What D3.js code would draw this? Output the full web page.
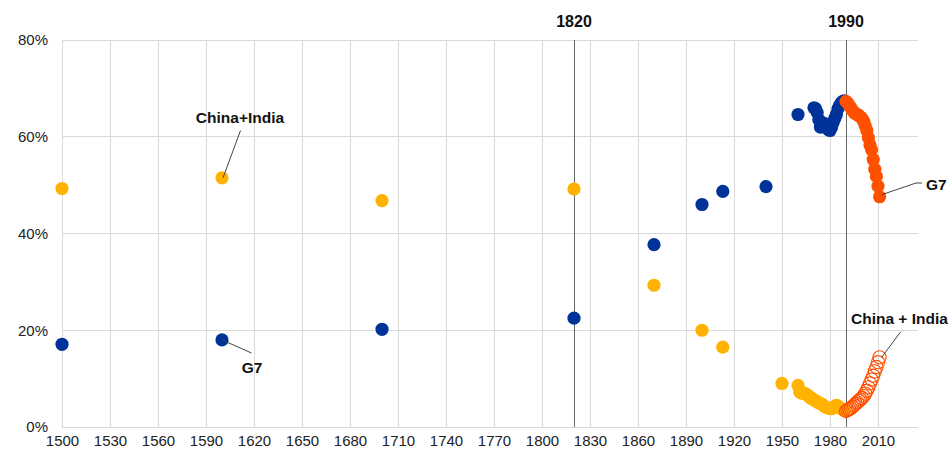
<!DOCTYPE html>
<html><head><meta charset="utf-8">
<script src="https://cdn.jsdelivr.net/npm/d3@7"></script>
<style>body{margin:0;background:#fff}svg{display:block}text{font-family:"Liberation Sans",Arial,sans-serif}</style>
</head><body><svg id="c" width="949" height="450"></svg>
<script>
// G7 share, historical (blue)
const g7Years = [1500,1600,1700,1820,1870,1900,1913,1940,1960,1970,1971,1972,1973,1974,1975,1976,1977,1978,1979,1980,1981,1982,1983,1984,1985,1986,1987,1988,1989];
const g7Vals  = [17.1,18.0,20.2,22.5,37.7,46.0,48.7,49.7,64.6,66.0,65.8,65.0,63.5,62.0,62.2,62.8,62.3,61.8,61.5,61.3,62.0,63.0,63.8,64.6,65.8,66.5,67.0,67.3,67.4];
// China+India share, historical (amber)
const ciYears = [1500,1600,1700,1820,1870,1900,1913,1950,1960,1961,1962,1963,1964,1965,1966,1967,1968,1969,1970,1971,1972,1973,1974,1975,1976,1977,1978,1979,1980,1981,1982,1983,1984,1985,1986,1987,1988,1989];
const ciVals  = [49.3,51.5,46.8,49.2,29.3,20.0,16.5,9.0,8.6,7.3,7.0,7.1,6.9,6.8,6.6,6.3,6.0,5.8,5.6,5.4,5.2,5.0,4.9,4.7,4.4,4.2,4.0,3.9,3.8,3.8,3.9,4.2,4.5,4.3,4.0,3.8,3.6,3.4];
// Since 1990 (orange)
const recentYears = [1990,1991,1992,1993,1994,1995,1996,1997,1998,1999,2000,2001,2002,2003,2004,2005,2006,2007,2008,2009,2010,2011];
const g7Recent    = [67.3,67.0,66.5,66.0,65.5,65.0,64.8,64.6,64.4,64.1,63.8,63.2,62.3,61.3,59.8,58.3,57.3,55.3,53.3,51.8,49.8,47.6];
const ciRecent    = [3.3,3.5,3.7,3.9,4.2,4.5,4.8,5.1,5.4,5.7,6.0,6.4,6.9,7.5,8.2,9.0,9.8,10.6,11.5,12.4,13.4,14.4];
const yTicks = [0,20,40,60,80];
const xTicks = [1500,1530,1560,1590,1620,1650,1680,1710,1740,1770,1800,1830,1860,1890,1920,1950,1980,2010];
const refYears = [1820,1990];

const svg = d3.select("#c");
const x = d3.scaleLinear().domain([1500,2035]).range([62,918]);
const y = d3.scaleLinear().domain([0,80]).range([427,40]);
const BLUE="#003399", AMBER="#FFB300", ORANGE="#FF5000";

// gridlines
svg.append("g").selectAll("line").data(xTicks).join("line")
  .attr("x1",d=>x(d)).attr("x2",d=>x(d)).attr("y1",y(80)).attr("y2",y(0))
  .attr("stroke","#d9d9d9").attr("stroke-width",1).attr("shape-rendering","crispEdges");
svg.append("g").selectAll("line").data(yTicks).join("line")
  .attr("x1",x(1500)).attr("x2",918).attr("y1",d=>y(d)).attr("y2",d=>y(d))
  .attr("stroke","#d9d9d9").attr("stroke-width",1).attr("shape-rendering","crispEdges");

// axes labels
const ya = svg.append("g").attr("transform","translate(62,0)")
  .call(d3.axisLeft(y).tickValues(yTicks).tickSize(0).tickPadding(14).tickFormat(d=>d+"%"));
ya.select(".domain").remove();
ya.selectAll("text").attr("font-size",15).attr("fill","#222").attr("font-family","Liberation Sans, Arial, sans-serif");
const xa = svg.append("g").attr("transform","translate(0,427)")
  .call(d3.axisBottom(x).tickValues(xTicks).tickSize(0).tickPadding(8).tickFormat(d3.format("d")));
xa.select(".domain").remove();
xa.selectAll("text").attr("font-size",15).attr("fill","#222").attr("font-family","Liberation Sans, Arial, sans-serif");

// reference lines
svg.append("g").selectAll("line").data(refYears).join("line")
  .attr("x1",d=>x(d)).attr("x2",d=>x(d)).attr("y1",y(80)).attr("y2",y(0))
  .attr("stroke","#666").attr("stroke-width",1).attr("shape-rendering","crispEdges");
svg.append("g").selectAll("text").data(refYears).join("text")
  .attr("x",d=>x(d)).attr("y",27).attr("text-anchor","middle")
  .attr("font-size",16).attr("font-weight","bold").attr("fill","#111").text(d=>d);

const R = 6.6;
function dots(years, vals, fill, stroke){
  svg.append("g").selectAll("circle").data(years.map((yr,i)=>[yr,vals[i]])).join("circle")
    .attr("cx",d=>x(d[0])).attr("cy",d=>y(d[1])).attr("r",R)
    .attr("fill",fill).attr("stroke",stroke||"none").attr("stroke-width",stroke?1.1:0);
}
dots(ciYears, ciVals, AMBER);
dots(g7Years, g7Vals, BLUE);
dots(recentYears, g7Recent, ORANGE);
dots(recentYears, ciRecent, "none", ORANGE);

// annotations
const ann = svg.append("g");
function leader(pts){ ann.append("path").attr("d",d3.line()(pts)).attr("fill","none").attr("stroke","#444").attr("stroke-width",1); }
function label(tx,ty,t,anchor){ ann.append("text").attr("x",tx).attr("y",ty).attr("text-anchor",anchor||"middle")
  .attr("font-size",15.5).attr("font-weight","bold").attr("fill","#111").text(t); }
leader([[240.5,130.5],[x(1600)+1,y(ciVals[1])]]);
label(240,123,"China+India");
leader([[x(1600),y(g7Vals[1])],[251.5,353]]);
label(252,373,"G7");
leader([[x(2011)+2,y(g7Recent[21])-2],[916,183],[922,183]]);
label(926,190,"G7","start");
leader([[x(2011)+2,y(ciRecent[21])],[900.5,332]]);
label(851,324,"China + India","start");
</script></body></html>
